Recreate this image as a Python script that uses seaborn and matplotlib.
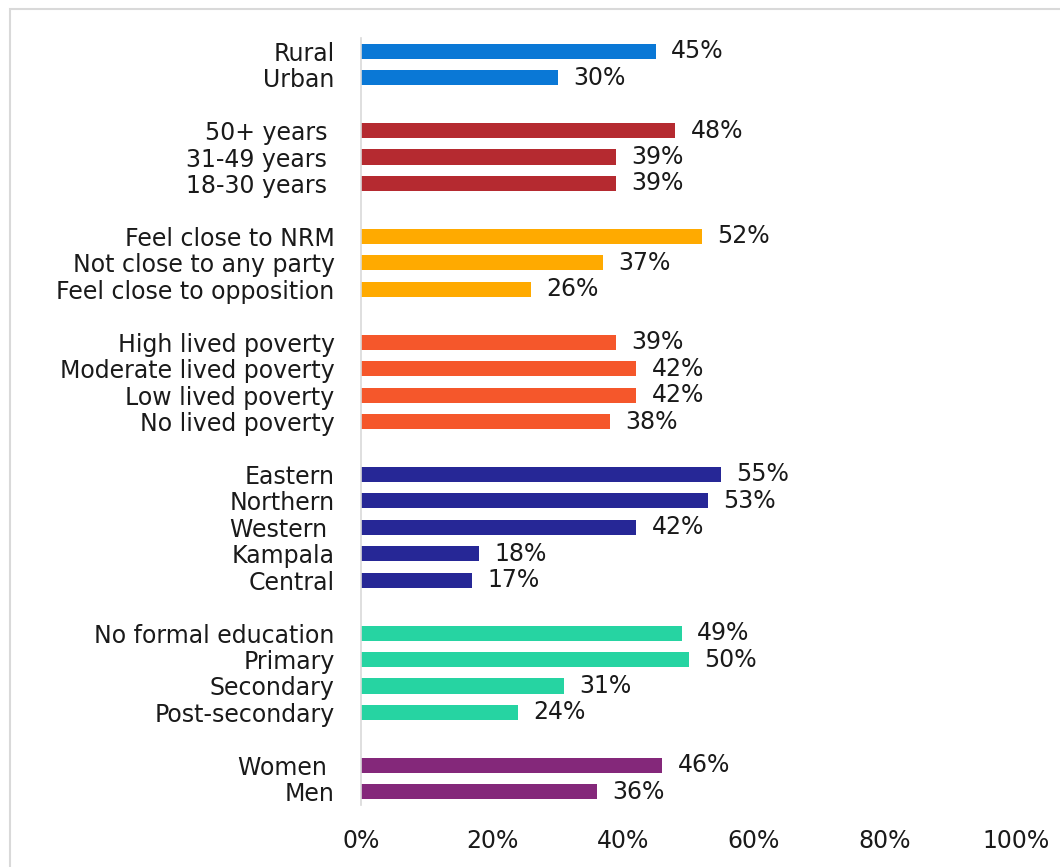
import matplotlib
matplotlib.use("Agg")
import matplotlib.pyplot as plt
import seaborn as sns
import pandas as pd
from matplotlib.patches import Rectangle

# Groups of categories, listed top to bottom
groups = ["Location", "Age", "Partisanship", "Lived poverty", "Region", "Education", "Gender"]
location_labels = ["Rural", "Urban"]
location_values = [45, 30]
age_labels = ["50+ years ", "31-49 years ", "18-30 years "]
age_values = [48, 39, 39]
party_labels = ["Feel close to NRM", "Not close to any party", "Feel close to opposition"]
party_values = [52, 37, 26]
poverty_labels = ["High lived poverty", "Moderate lived poverty", "Low lived poverty", "No lived poverty"]
poverty_values = [39, 42, 42, 38]
region_labels = ["Eastern", "Northern", "Western ", "Kampala", "Central"]
region_values = [55, 53, 42, 18, 17]
education_labels = ["No formal education", "Primary", "Secondary", "Post-secondary"]
education_values = [49, 50, 31, 24]
gender_labels = ["Women ", "Men"]
gender_values = [46, 36]

group_colors = ["#0A78D6", "#B52A30", "#FFAA00", "#F5572B", "#262796", "#26D4A2", "#84287A"]
x_ticks = [0, 20, 40, 60, 80, 100]

all_labels = [location_labels, age_labels, party_labels, poverty_labels,
              region_labels, education_labels, gender_labels]
all_values = [location_values, age_values, party_values, poverty_values,
              region_values, education_values, gender_values]

# Build a table with one row per bar; a blank row separates groups
rows = []
pos = 0
for g, labs, vals in zip(groups, all_labels, all_values):
    for lab, v in zip(labs, vals):
        rows.append({"group": g, "label": lab, "value": v, "pos": pos})
        pos += 1
    pos += 1
df = pd.DataFrame(rows)

FS = 17
TXT = "#1a1a1a"
plt.rcParams["font.family"] = ["DejaVu Sans"]
fig = plt.figure(figsize=(10.6, 8.67), dpi=100)
ax = fig.add_axes([361 / 1060, 1 - 805 / 867, (1016 - 361) / 1060, (805 - 38) / 867])

sns.barplot(data=df, x="value", y="pos", hue="group", hue_order=groups,
            palette=group_colors, orient="h", native_scale=True, dodge=False,
            width=0.57, legend=False, ax=ax, saturation=1)

for cont in ax.containers:
    vals = [int(round(b.get_width())) for b in cont]
    ax.bar_label(cont, labels=[f"{v}%" for v in vals], padding=11,
                 fontsize=FS, color=TXT)

ax.set_xlim(0, 100)
ax.set_ylim(pos - 1.5, -0.5)
ax.set_yticks(df["pos"])
ax.set_yticklabels(df["label"], fontsize=FS, color=TXT)
ax.set_xticks(x_ticks)
ax.set_xticklabels([f"{t}%" for t in x_ticks], fontsize=FS, color=TXT)
ax.tick_params(axis="y", length=0, pad=19)
ax.tick_params(axis="x", length=0, pad=17)
ax.set_xlabel("")
ax.set_ylabel("")
for s in ["top", "right", "bottom"]:
    ax.spines[s].set_visible(False)
ax.spines["left"].set_color("#d9d9d9")
ax.spines["left"].set_linewidth(1.2)
ax.grid(False)

# Chart frame
fig.patches.append(Rectangle((10 / 1060, -0.1), 1.2, 1 - 9 / 867 + 0.1,
                             transform=fig.transFigure, fill=False,
                             edgecolor="#d9d9d9", linewidth=1.5))

fig.savefig("out.png", dpi=100, facecolor="white")
